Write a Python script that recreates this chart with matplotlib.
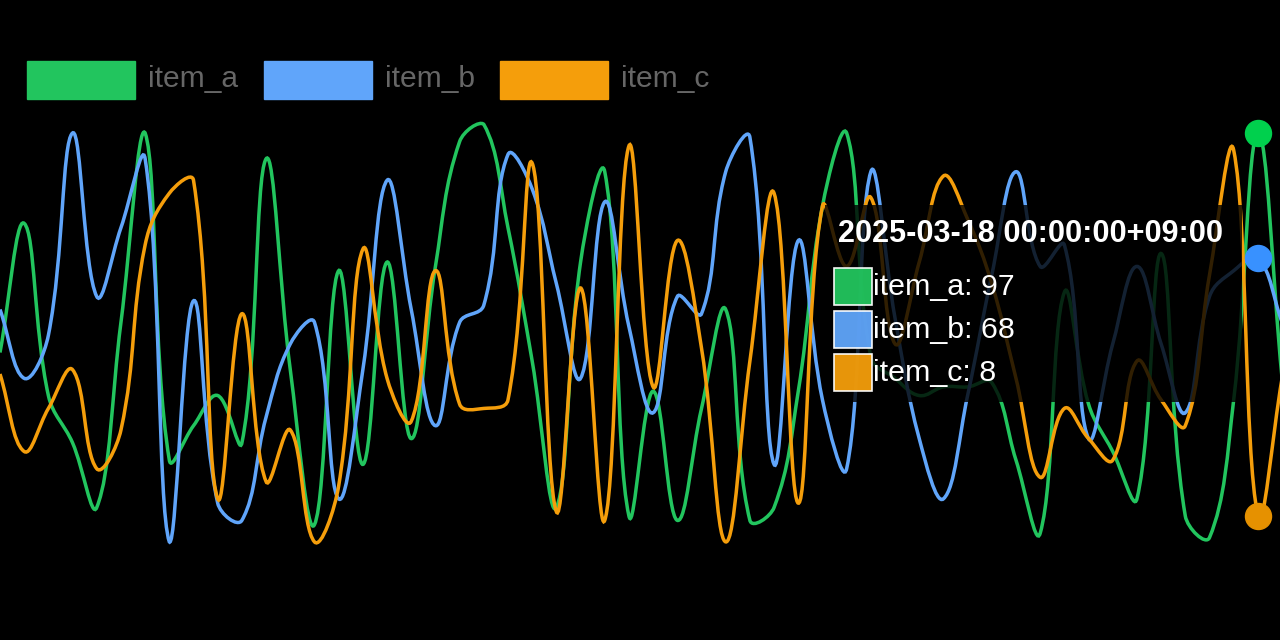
import colorsys
import numpy as np
import matplotlib
matplotlib.use("Agg")
import matplotlib.pyplot as plt
from matplotlib.colors import to_rgb
from matplotlib.path import Path
from matplotlib.patches import PathPatch, Rectangle

# ------------------------------
# Data (one value per day, last day is hovered)
# ------------------------------
labels = ["item_a", "item_b", "item_c"]
colors = ["#22c55e", "#60a5fa", "#f59e0b"]

item_a = [46, 76, 36, 25, 10, 53, 97, 21, 29, 36, 25, 91, 42, 6, 65, 20, 67, 26,
          66, 95, 99, 75, 44, 10, 67, 88, 8, 37, 7, 33, 56, 7, 10, 37, 80, 97,
          45, 40, 36, 38, 38, 39, 21, 4, 60, 34, 23, 12, 69, 8, 3, 35, 97, 40]
item_b = [56, 40, 50, 97, 59, 75, 91, 2, 58, 11, 7, 31, 48, 53, 12, 42, 86, 56,
          29, 53, 57, 92, 84, 62, 40, 81, 52, 32, 59, 55, 88, 96, 20, 72, 35, 19,
          88, 54, 26, 12, 36, 64, 88, 66, 71, 26, 48, 66, 48, 32, 59, 65, 68, 53]
item_c = [41, 23, 33, 42, 19, 28, 71, 83, 86, 12, 55, 16, 28, 2, 15, 70, 40, 30,
          65, 34, 33, 35, 90, 9, 61, 7, 94, 38, 72, 47, 2, 44, 83, 11, 80, 66,
          82, 48, 67, 87, 77, 62, 40, 17, 33, 26, 21, 44, 35, 29, 64, 93, 8, 40]

hover_index = 52
hover_title = "2025-03-18 00:00:00+09:00"

W, H = 1280, 640
FONT = "Liberation Sans"
PX = 0.72  # points per pixel at dpi 100


def fpos(x, y):
    # image pixel (top-left origin) -> figure fraction
    return x / W, 1 - y / H


def hover_color(c):
    # saturate 50%, darken 10% (like the hovered points)
    h, l, s = colorsys.rgb_to_hls(*to_rgb(c))
    return colorsys.hls_to_rgb(h, l * 0.9, min(1.0, s * 1.5))


# ------------------------------
# Chart.js style spline (tension 0.4)
# ------------------------------
def spline_path(ax, values, tension=0.4):
    xs = np.arange(len(values), dtype=float)
    pts = ax.transData.transform(np.column_stack([xs, np.asarray(values, float)]))
    y_lo = ax.transData.transform((0, 0))[1]
    y_hi = ax.transData.transform((0, 100))[1]
    n = len(pts)
    prev_cp = np.zeros_like(pts)
    next_cp = np.zeros_like(pts)
    for i in range(n):
        p0 = pts[i - 1] if i > 0 else pts[i]
        p1 = pts[i]
        p2 = pts[i + 1] if i < n - 1 else pts[i]
        d01 = np.hypot(*(p1 - p0))
        d12 = np.hypot(*(p2 - p1))
        tot = d01 + d12
        s01 = d01 / tot if tot else 0
        s12 = d12 / tot if tot else 0
        prev_cp[i] = p1 - tension * s01 * (p2 - p0)
        next_cp[i] = p1 + tension * s12 * (p2 - p0)
    prev_cp[:, 1] = np.clip(prev_cp[:, 1], y_lo, y_hi)
    next_cp[:, 1] = np.clip(next_cp[:, 1], y_lo, y_hi)

    inv = ax.transData.inverted()
    verts = [pts[0]]
    codes = [Path.MOVETO]
    for i in range(1, n):
        verts += [next_cp[i - 1], prev_cp[i], pts[i]]
        codes += [Path.CURVE4] * 3
    return Path(inv.transform(np.array(verts)), codes)


fig = plt.figure(figsize=(W / 100, H / 100), dpi=100, facecolor="black")
ax = fig.add_axes([0, 0, 1, 1])
ax.set_facecolor("black")
ax.set_xlim(0, W / 24.19)
ax.set_ylim(-20.8, 127.9)
ax.axis("off")

series = [item_a, item_b, item_c]
for vals, col in zip(series, colors):
    ax.add_patch(PathPatch(spline_path(ax, vals), fill=False, edgecolor=col,
                           lw=3.5 * PX, clip_on=True))
    hc = hover_color(col)
    ax.plot([hover_index], [vals[hover_index]], "o", ms=26 * PX, color=hc,
            mec=hc, zorder=5)

# ------------------------------
# Legend (top left)
# ------------------------------
legend_x = [27, 264, 500]
for lbl, col, x in zip(labels, colors, legend_x):
    fig.add_artist(Rectangle(fpos(x, 99), 108 / W, 38 / H, transform=fig.transFigure,
                             facecolor=col, edgecolor=col, lw=1))
    fig.text(*fpos(x + 121, 87), lbl, color="#666666", fontsize=30 * PX,
             family=FONT, va="baseline", ha="left")

# ------------------------------
# Tooltip
# ------------------------------
fig.add_artist(Rectangle(fpos(825, 402), (1242 - 825) / W, (402 - 205) / H,
                         transform=fig.transFigure, facecolor=(0, 0, 0, 0.8),
                         edgecolor="none", zorder=6))
fig.text(*fpos(838, 242), hover_title, color="white", fontsize=30.6 * PX,
         fontweight="bold", family=FONT, va="baseline", ha="left", zorder=7)
for k, (lbl, col, vals) in enumerate(zip(labels, colors, series)):
    top = 268 + 43 * k
    fig.add_artist(Rectangle(fpos(834, top + 37), 38 / W, 37 / H,
                             transform=fig.transFigure, facecolor=col,
                             edgecolor="white", lw=1.2, alpha=0.95, zorder=7))
    fig.text(*fpos(873, 295 + 43 * k), f"{lbl}: {vals[hover_index]}", color="white",
             fontsize=30.4 * PX, family=FONT, va="baseline", ha="left", zorder=7)

fig.savefig("out.png", dpi=100, facecolor="black")
